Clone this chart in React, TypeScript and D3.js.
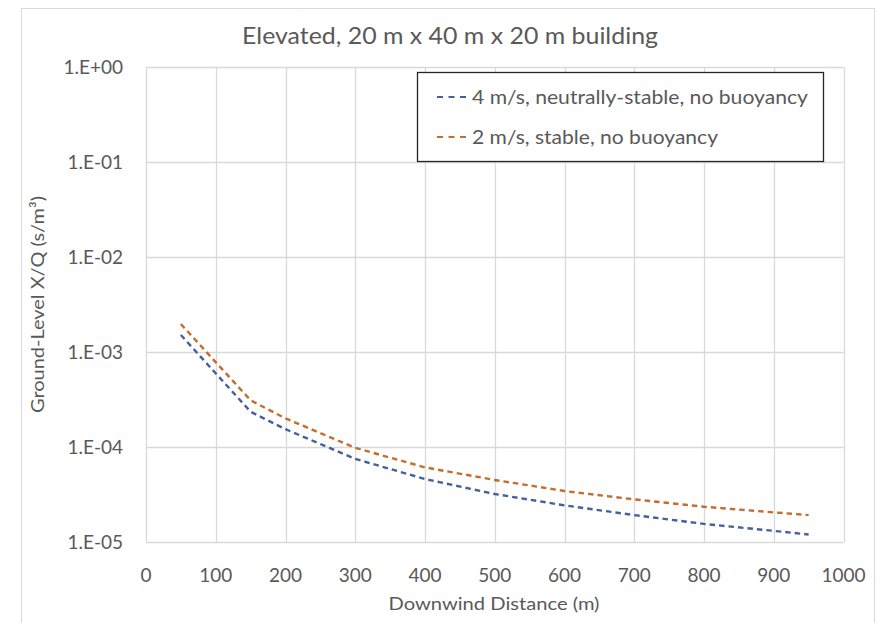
import React from "react";
import * as d3 from "d3";

const distances = [50, 150, 200, 300, 400, 500, 600, 700, 800, 900, 950];
const neutralValues = [1.51e-3, 2.35e-4, 1.54e-4, 7.5e-5, 4.6e-5, 3.2e-5, 2.43e-5, 1.92e-5, 1.55e-5, 1.31e-5, 1.2e-5];
const stableValues = [1.97e-3, 3.1e-4, 2.0e-4, 9.8e-5, 6.1e-5, 4.5e-5, 3.44e-5, 2.81e-5, 2.35e-5, 2.05e-5, 1.92e-5];
const seriesNames = ["4 m/s, neutrally-stable, no buoyancy", "2 m/s, stable, no buoyancy"];
const seriesColors = ["#44609e", "#c56d2c"];
const xTicks = [0, 100, 200, 300, 400, 500, 600, 700, 800, 900, 1000];
const yTicks = [1, 1e-1, 1e-2, 1e-3, 1e-4, 1e-5];
const yTickLabels = ["1.E+00", "1.E-01", "1.E-02", "1.E-03", "1.E-04", "1.E-05"];
const title = "Elevated, 20 m x 40 m x 20 m building";
const xTitle = "Downwind Distance (m)";
const yTitle = "Ground-Level X/Q (s/m\u00B3)";

const W = 880;
const H = 623;
const plot = { left: 146, right: 843.5, top: 67, bottom: 542 };
const font = "Lato, 'Open Sans', sans-serif";
const textColor = "#595959";
const gridColor = "#d9d9d9";

export default function App() {
  const x = d3.scaleLinear().domain([0, 1000]).range([plot.left, plot.right]);
  const y = d3.scaleLog().domain([1e-5, 1]).range([plot.bottom, plot.top]);
  const line = d3
    .line<[number, number]>()
    .x((d) => x(d[0]))
    .y((d) => y(d[1]));
  const series = [neutralValues, stableValues].map((vals) =>
    distances.map((d, i) => [d, vals[i]] as [number, number])
  );

  const legend = { x: 417, y: 72, w: 406, h: 89 };
  const legendRows = [97, 137];
  const legendWidths = [336, 246];

  return (
    <svg
      width={W}
      height={H}
      style={{ position: "absolute", left: 0, top: 0, background: "#fff" }}
      fontFamily={font}
    >
      <rect x={0} y={0} width={W} height={H} fill="#fff" />
      <rect x={21.5} y={8.5} width={853} height={630} fill="#fff" stroke={gridColor} strokeWidth={1} />
      <text
        x={450}
        y={44}
        textAnchor="middle"
        fontSize={23}
        fill={textColor}
        textLength={416}
        lengthAdjust="spacingAndGlyphs"
      >
        {title}
      </text>

      {/* gridlines */}
      {xTicks.map((t) => (
        <line
          key={"gx" + t}
          x1={Math.round(x(t)) + 0.5}
          x2={Math.round(x(t)) + 0.5}
          y1={plot.top}
          y2={plot.bottom}
          stroke={gridColor}
          strokeWidth={1.3}
        />
      ))}
      {yTicks.map((t) => (
        <line
          key={"gy" + t}
          x1={plot.left}
          x2={plot.right}
          y1={Math.round(y(t)) + 0.5}
          y2={Math.round(y(t)) + 0.5}
          stroke={gridColor}
          strokeWidth={1.3}
        />
      ))}

      {/* tick labels */}
      {xTicks.map((t) => (
        <text
          key={"tx" + t}
          x={x(t)}
          y={582}
          textAnchor="middle"
          fontSize={19}
          fill={textColor}
        >
          {t}
        </text>
      ))}
      {yTicks.map((t, i) => (
        <text
          key={"ty" + t}
          x={123}
          y={y(t) + 6.5}
          textAnchor="end"
          fontSize={19}
          fill={textColor}
        >
          {yTickLabels[i]}
        </text>
      ))}

      {/* axis titles */}
      <text
        x={494}
        y={610}
        textAnchor="middle"
        fontSize={18}
        fill={textColor}
        textLength={211}
        lengthAdjust="spacingAndGlyphs"
      >
        {xTitle}
      </text>
      <text
        transform={`translate(44, ${(plot.top + plot.bottom) / 2}) rotate(-90)`}
        textAnchor="middle"
        fontSize={18}
        fill={textColor}
        textLength={217}
        lengthAdjust="spacingAndGlyphs"
      >
        {yTitle}
      </text>

      {/* series */}
      {series.map((s, i) => (
        <path
          key={"s" + i}
          d={line(s) || ""}
          fill="none"
          stroke={seriesColors[i]}
          strokeWidth={2.4}
          strokeDasharray="5.5,4"
        />
      ))}

      {/* legend */}
      <rect
        x={legend.x + 0.5}
        y={legend.y + 0.5}
        width={legend.w}
        height={legend.h}
        fill="#fff"
        stroke="#262626"
        strokeWidth={1.3}
      />
      {seriesNames.map((name, i) => (
        <g key={"l" + i}>
          <line
            x1={437}
            x2={470}
            y1={legendRows[i]}
            y2={legendRows[i]}
            stroke={seriesColors[i]}
            strokeWidth={2.2}
            strokeDasharray="6,5.5"
          />
          <text
            x={472}
            y={legendRows[i] + 6.5}
            fontSize={19}
            fill={textColor}
            textLength={legendWidths[i]}
            lengthAdjust="spacingAndGlyphs"
          >
            {name}
          </text>
        </g>
      ))}
    </svg>
  );
}
